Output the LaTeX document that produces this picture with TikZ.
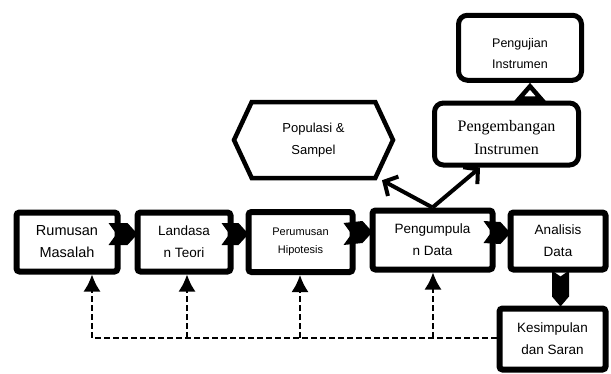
\documentclass[tikz,border=0pt]{standalone}
\usepackage{fontspec}
\setmainfont{Liberation Sans}
\newfontfamily\timesfont{Liberation Serif}
\usetikzlibrary{arrows.meta,shapes.symbols}

\tikzset{
  stagebox/.style={draw=black, line width=6pt, rounded corners=3pt, align=center, inner sep=0pt, font=\fontsize{13.5}{22}\selectfont},
  instbox/.style={draw=black, line width=5pt, rounded corners=9pt, align=center, inner sep=0pt},
  feedback/.style={line width=2pt, dash pattern=on 6pt off 3pt},
  fbtip/.style={-{Latex[length=17pt,width=17pt]}},
  branch/.style={line width=4pt, -{Straight Barb[length=10pt,width=22pt]}},
}

\begin{document}
\begin{tikzpicture}[x=1pt,y=1pt]
	\useasboundingbox (0,0) rectangle (611,-373);
	% main stages
	\node[stagebox, minimum width=101, minimum height=59, font=\fontsize{14.5}{22}\selectfont] (rumusan) at (67,-242) {Rumusan\\Masalah};
	\node[stagebox, minimum width=93, minimum height=59] (landasan) at (184,-242) {Landasa\\n Teori};
	\node[stagebox, minimum width=104, minimum height=60, font=\fontsize{11}{18}\selectfont] (perumusan) at (300.5,-242) {Perumusan\\Hipotesis};
	\node[stagebox, minimum width=120, minimum height=59] (pengumpulan) at (432.5,-240) {Pengumpula\\n Data};
	\node[stagebox, minimum width=95, minimum height=57] (analisis) at (558,-241) {Analisis\\Data};
	\node[stagebox, minimum width=106, minimum height=61] (kesimpulan) at (552.5,-339) {Kesimpulan\\dan Saran};
	% upper branch
	\node[draw=black, line width=4.5pt, signal, signal to=west and east, signal pointer angle=130, minimum width=159, minimum height=76, align=center, inner sep=0pt, font=\fontsize{13}{22}\selectfont] (populasi) at (313.5,-140) {Populasi \&\\Sampel};
	\node[instbox, minimum width=144, minimum height=62, font=\timesfont\fontsize{16}{23}\selectfont] (pengembangan) at (506.5,-134) {\rule{0pt}{18pt}Pengembangan\\Instrumen};
	\node[instbox, minimum width=123, minimum height=65, font=\fontsize{12.5}{21}\selectfont] (pengujian) at (520,-47.75) {\rule{0pt}{20pt}Pengujian\\Instrumen};
	% chevrons between stages
	\foreach \a/\b in {rumusan/landasan, landasan/perumusan, perumusan/pengumpulan, pengumpulan/analisis}
		\fill ([shift={(-12,19)}]\a.east) -- ([shift={(-7,19)}]\b.west) -- ([shift={(3,8)}]\b.west) -- ([shift={(-7,-3)}]\b.west) -- ([shift={(-12,-3)}]\a.east) -- ([shift={(-4,8)}]\a.east) -- cycle;
	\fill ([shift={(-6,2)}]analisis.south) -- ([shift={(2.5,-4)}]analisis.south) -- ([shift={(11,2)}]analisis.south) -- ([shift={(11,-24)}]analisis.south) -- ([shift={(2.5,-34)}]analisis.south) -- ([shift={(-6,-24)}]analisis.south) -- cycle;
	% data collection branches
	\draw[branch] (pengumpulan.north) -- (populasi.south -| 382,0);
	\draw[branch] (pengumpulan.north) -- (pengembangan.south -| 480,0);
	\draw[line width=5pt, -{Triangle[open,length=18pt,width=30pt]}] (pengembangan.north -| 530,0) -- (pengujian.south -| 530,0);
	% feedback
	\coordinate (fb1) at (92,-338);
	\coordinate (fb2) at (187,-338);
	\coordinate (fb3) at (300,-338);
	\coordinate (fb4) at (433,-338);
	\draw[feedback, fbtip] (fb1 -| kesimpulan.west) -- (fb1) -- (fb1 |- rumusan.south);
	\foreach \n/\c in {landasan/fb2, perumusan/fb3, pengumpulan/fb4}
		\draw[feedback, fbtip] (\c) -- (\c |- \n.south);
\end{tikzpicture}
\end{document}
